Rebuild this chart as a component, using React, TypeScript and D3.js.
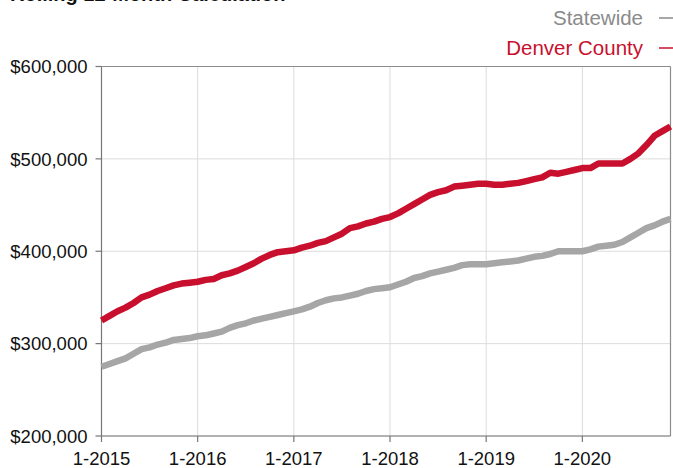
import React from 'react';
import * as d3 from 'd3';

// Median sales price, rolling 12-month, Jan 2015 - Dec 2020 (thousands of $)
const denverValues = [
  325, 330, 335, 339, 344, 350, 353, 357, 360, 363, 365, 366,
  367, 369, 370, 374, 376, 379, 383, 387, 392, 396, 399, 400,
  401, 404, 406, 409, 411, 415, 419, 425, 427, 430, 432, 435,
  437, 441, 446, 451, 456, 461, 464, 466, 470, 471, 472, 473,
  473, 472, 472, 473, 474, 476, 478, 480, 485, 484, 486, 488,
  490, 490, 495, 495, 495, 495, 500, 506, 515, 525, 530, 535,
];

const statewideValues = [
  275, 278, 281, 284, 289, 294, 296, 299, 301, 304, 305, 306,
  308, 309, 311, 313, 317, 320, 322, 325, 327, 329, 331, 333,
  335, 337, 340, 344, 347, 349, 350, 352, 354, 357, 359, 360,
  361, 364, 367, 371, 373, 376, 378, 380, 382, 385, 386, 386,
  386, 387, 388, 389, 390, 392, 394, 395, 397, 400, 400, 400,
  400, 402, 405, 406, 407, 410, 415, 420, 425, 428, 432, 435,
];

const yTicks = [200000, 300000, 400000, 500000, 600000];
const xTickLabels = ['1-2015', '1-2016', '1-2017', '1-2018', '1-2019', '1-2020'];

const WIDTH = 673;
const HEIGHT = 468;
const margin = { top: 66.5, right: 2.5, bottom: 32, left: 101.5 };
const FONT = '"Liberation Sans", Arial, Helvetica, sans-serif';

const RED = '#c8102e';
const GRAY = '#a6a6a6';

export default function App() {
  const innerW = WIDTH - margin.left - margin.right;
  const innerH = HEIGHT - margin.top - margin.bottom;

  const x = d3.scaleLinear().domain([0, 71]).range([0, innerW]);
  const y = d3.scaleLinear().domain([200000, 600000]).range([innerH, 0]);

  const line = d3.line<number>()
    .x((_, i) => x(i))
    .y(d => y(d * 1000));

  const fmt = (v: number) => '$' + d3.format(',')(v);

  return (
    <svg
      width={WIDTH}
      height={HEIGHT}
      style={{ position: 'absolute', left: 0, top: 0, background: '#fff' }}
      fontFamily={FONT}
    >
      {/* title cut off at the top */}
      <text x={10} y={1} fontSize={20} fontWeight={600} fill="#111">
        Rolling 12-Month Calculation
      </text>

      {/* legend */}
      <g fontSize={20.5}>
        <text x={643} y={25} textAnchor="end" fill="#8a8a8a">Statewide</text>
        <line x1={659} x2={673} y1={18} y2={18} stroke="#8a8a8a" strokeWidth={1.5} />
        <text x={643} y={55} textAnchor="end" fill={RED}>Denver County</text>
        <line x1={659} x2={673} y1={48} y2={48} stroke={RED} strokeWidth={1.5} />
      </g>

      <g transform={`translate(${margin.left},${margin.top})`}>
        {/* grid */}
        {yTicks.map(t => (
          <line key={'gy' + t} x1={0} x2={innerW} y1={y(t)} y2={y(t)} stroke="#dcdcdc" strokeWidth={1} />
        ))}
        {xTickLabels.map((_, i) => (
          <line key={'gx' + i} x1={x(i * 12)} x2={x(i * 12)} y1={0} y2={innerH} stroke="#dcdcdc" strokeWidth={1} />
        ))}

        {/* frame */}
        <line x1={0} x2={innerW} y1={0} y2={0} stroke="#8c8c8c" strokeWidth={1.2} />
        <line x1={innerW} x2={innerW} y1={0} y2={innerH} stroke="#8c8c8c" strokeWidth={1.2} />
        <line x1={0} x2={innerW} y1={innerH} y2={innerH} stroke="#777" strokeWidth={1.2} />
        <line x1={0} x2={0} y1={0} y2={innerH} stroke="#777" strokeWidth={1.2} />

        {/* y axis */}
        {yTicks.map(t => (
          <g key={'yt' + t} transform={`translate(0,${y(t)})`}>
            <line x1={-6} x2={0} stroke="#777" strokeWidth={1.2} />
            <text x={-14} dy="0.36em" textAnchor="end" fontSize={18.5} fill="#111">{fmt(t)}</text>
          </g>
        ))}

        {/* x axis */}
        {xTickLabels.map((lab, i) => (
          <g key={'xt' + i} transform={`translate(${x(i * 12)},${innerH})`}>
            <line y1={0} y2={6} stroke="#777" strokeWidth={1.2} />
            <text y={29} textAnchor="middle" fontSize={18.5} fill="#111">{lab}</text>
          </g>
        ))}

        {/* series */}
        <path d={line(statewideValues) || ''} fill="none" stroke={GRAY} strokeWidth={6.5} strokeLinejoin="round" />
        <path d={line(denverValues) || ''} fill="none" stroke={RED} strokeWidth={6.5} strokeLinejoin="round" />
      </g>
    </svg>
  );
}
